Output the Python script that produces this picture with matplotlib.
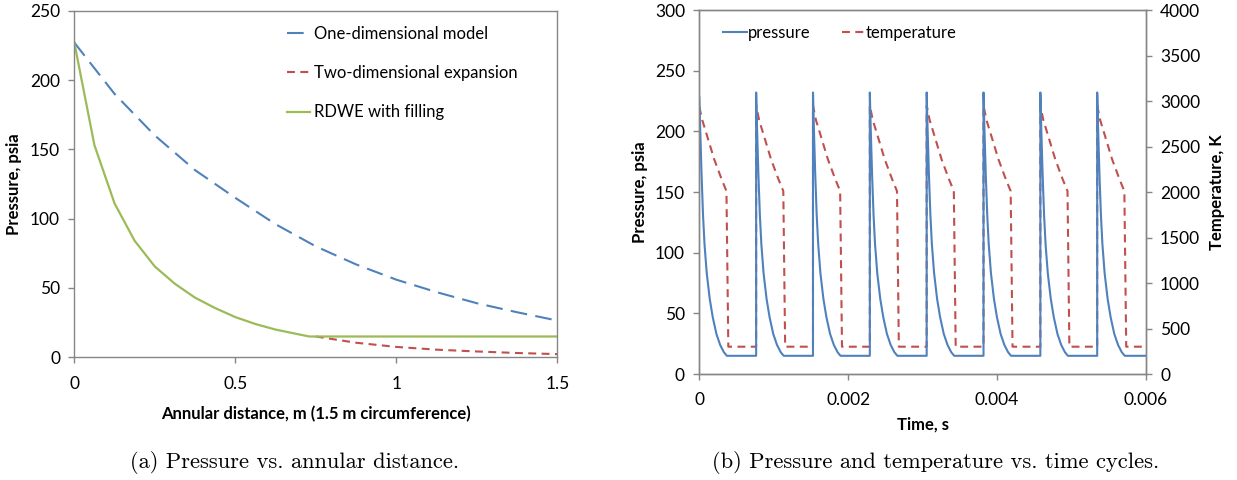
import matplotlib
matplotlib.use("Agg")
import matplotlib.pyplot as plt

# ---------------- data: left chart ----------------
x_1d = [0, 0.125, 0.25, 0.375, 0.5, 0.625, 0.75, 0.875, 1.0, 1.125, 1.25, 1.375, 1.5]
p_1d = [227, 190, 160, 135, 115, 96, 80, 67, 56, 47, 39, 32.5, 26.5]

x_2d = [0.75, 0.875, 1.0, 1.125, 1.25, 1.375, 1.5]
p_2d = [15, 10.5, 7.5, 5.5, 4.2, 3.1, 2.3]

x_rdwe = [0, 0.0625, 0.125, 0.1875, 0.25, 0.3125, 0.375, 0.4375, 0.5, 0.5625, 0.625, 0.6875, 0.73, 1.5]
p_rdwe = [227, 153, 111, 84, 65.5, 53, 43, 35.5, 29, 24, 20, 17, 15, 15]

left_labels = ["One-dimensional model", "Two-dimensional expansion", "RDWE with filling"]
left_xticks = [0, 0.5, 1, 1.5]
left_xticklabels = ["0", "0.5", "1", "1.5"]
left_yticks = [0, 50, 100, 150, 200, 250]

# ---------------- data: right chart ----------------
cycle_start = [0, 0.000764, 0.001528, 0.002292, 0.003056, 0.00382, 0.004584, 0.005348]
p_peak = [228, 232, 232, 232, 232, 232, 232, 232]
T_peak = [2935, 2950, 2950, 2950, 2950, 2950, 2950, 2950]
# one cycle profile (time after cycle start)
p_off = [0.00001, 0.00003, 0.00005, 0.00007, 0.0001, 0.00014, 0.00018, 0.00023, 0.00028, 0.00033, 0.00037]
p_val = [207, 165, 131, 107, 83, 62, 47, 33, 24, 18, 15]
T_off = [0.00004, 0.0001, 0.0002, 0.0003, 0.000365, 0.00039]
T_val = [2790, 2630, 2360, 2140, 2010, 300]
p_base = 15
T_base = 300
t_end = 0.006

right_xticks = [0, 0.002, 0.004, 0.006]
right_xticklabels = ["0", "0.002", "0.004", "0.006"]
right_yticks = [0, 50, 100, 150, 200, 250, 300]
right_y2ticks = [0, 500, 1000, 1500, 2000, 2500, 3000, 3500, 4000]

# ---------------- build time series ----------------
t_p, v_p, t_T, v_T = [], [], [], []
for k, s in enumerate(cycle_start):
    if k > 0:
        t_p.append(s); v_p.append(p_base)
        t_T.append(s); v_T.append(T_base)
    t_p.append(s); v_p.append(p_peak[k])
    t_T.append(s); v_T.append(T_peak[k])
    for o, v in zip(p_off, p_val):
        t_p.append(s + o); v_p.append(v)
    for o, v in zip(T_off, T_val):
        t_T.append(s + o); v_T.append(v)
t_p.append(t_end); v_p.append(p_base)
t_T.append(t_end); v_T.append(T_base)

# ---------------- style ----------------
BLUE = "#4F81BD"
RED = "#C0504D"
GREEN = "#9BBB59"
GRAY = "#868686"
plt.rcParams["font.family"] = ["Lato", "DejaVu Sans"]
TICK_FS = 12.5
LAB_FS = 12

fig = plt.figure(figsize=(12.37, 4.80), dpi=100)

def style_axes(ax):
    for sp in ax.spines.values():
        sp.set_color(GRAY)
        sp.set_linewidth(1.0)
    ax.tick_params(axis="both", colors=GRAY, labelcolor="black", length=4.3, width=1.0,
                   labelsize=TICK_FS, direction="out")
    ax.tick_params(axis="x", pad=9)
    ax.tick_params(axis="y", pad=6)

# ---------------- left chart ----------------
ax1 = fig.add_axes([0.06007, 0.25563, 0.39046, 0.72208])
ax1.plot(x_1d, p_1d, color=BLUE, lw=1.5, ls=(0, (8, 4)), label=left_labels[0])
ax1.plot(x_2d, p_2d, color=RED, lw=1.5, ls=(0, (3.8, 2.6)), label=left_labels[1])
ax1.plot(x_rdwe, p_rdwe, color=GREEN, lw=1.6, label=left_labels[2])
ax1.set_xlim(0, 1.5)
ax1.set_ylim(0, 250)
ax1.set_xticks(left_xticks)
ax1.set_xticklabels(left_xticklabels)
ax1.set_yticks(left_yticks)
style_axes(ax1)
ax1.set_xlabel("Annular distance, m (1.5 m circumference)", fontsize=LAB_FS, fontweight="bold", labelpad=10)
ax1.set_ylabel("Pressure, psia", fontsize=LAB_FS, fontweight="bold", labelpad=6)
ax1.legend(loc="upper left", bbox_to_anchor=(0.41, 1.0), frameon=False, fontsize=LAB_FS,
           handlelength=1.35, handletextpad=0.25, labelspacing=1.4, borderaxespad=0.5)

# ---------------- right chart ----------------
ax2 = fig.add_axes([0.56532, 0.22083, 0.36088, 0.75833])
ax3 = ax2.twinx()
lp, = ax2.plot(t_p, v_p, color=BLUE, lw=1.5, label="pressure")
lt, = ax3.plot(t_T, v_T, color=RED, lw=1.5, ls=(0, (3.8, 2.6)), label="temperature")
ax2.set_zorder(ax3.get_zorder() + 1)
ax2.patch.set_visible(False)
ax2.set_xlim(0, 0.006)
ax2.set_ylim(0, 300)
ax3.set_ylim(0, 4000)
ax2.set_xticks(right_xticks)
ax2.set_xticklabels(right_xticklabels)
ax2.set_yticks(right_yticks)
ax3.set_yticks(right_y2ticks)
style_axes(ax2)
style_axes(ax3)
ax2.set_xlabel("Time, s", fontsize=LAB_FS, fontweight="bold", labelpad=6)
ax2.set_ylabel("Pressure, psia", fontsize=LAB_FS, fontweight="bold", labelpad=5)
ax3.set_ylabel("Temperature, K", fontsize=LAB_FS, fontweight="bold", labelpad=6)
ax2.legend(handles=[lp, lt], loc="upper left", ncol=2, frameon=False, fontsize=LAB_FS,
           handlelength=1.4, handletextpad=0.05, columnspacing=1.9, borderaxespad=0.5,
           bbox_to_anchor=(0.02, 1.0))

# ---------------- captions ----------------
fig.text(0.2385, 1 - 463 / 480, "(a) Pressure vs. annular distance.", family="cmr10",
         fontsize=16.2, ha="center", va="center")
fig.text(0.756, 1 - 463 / 480, "(b) Pressure and temperature vs. time cycles.", family="cmr10",
         fontsize=16.2, ha="center", va="center")

fig.savefig("out.png", dpi=100)
